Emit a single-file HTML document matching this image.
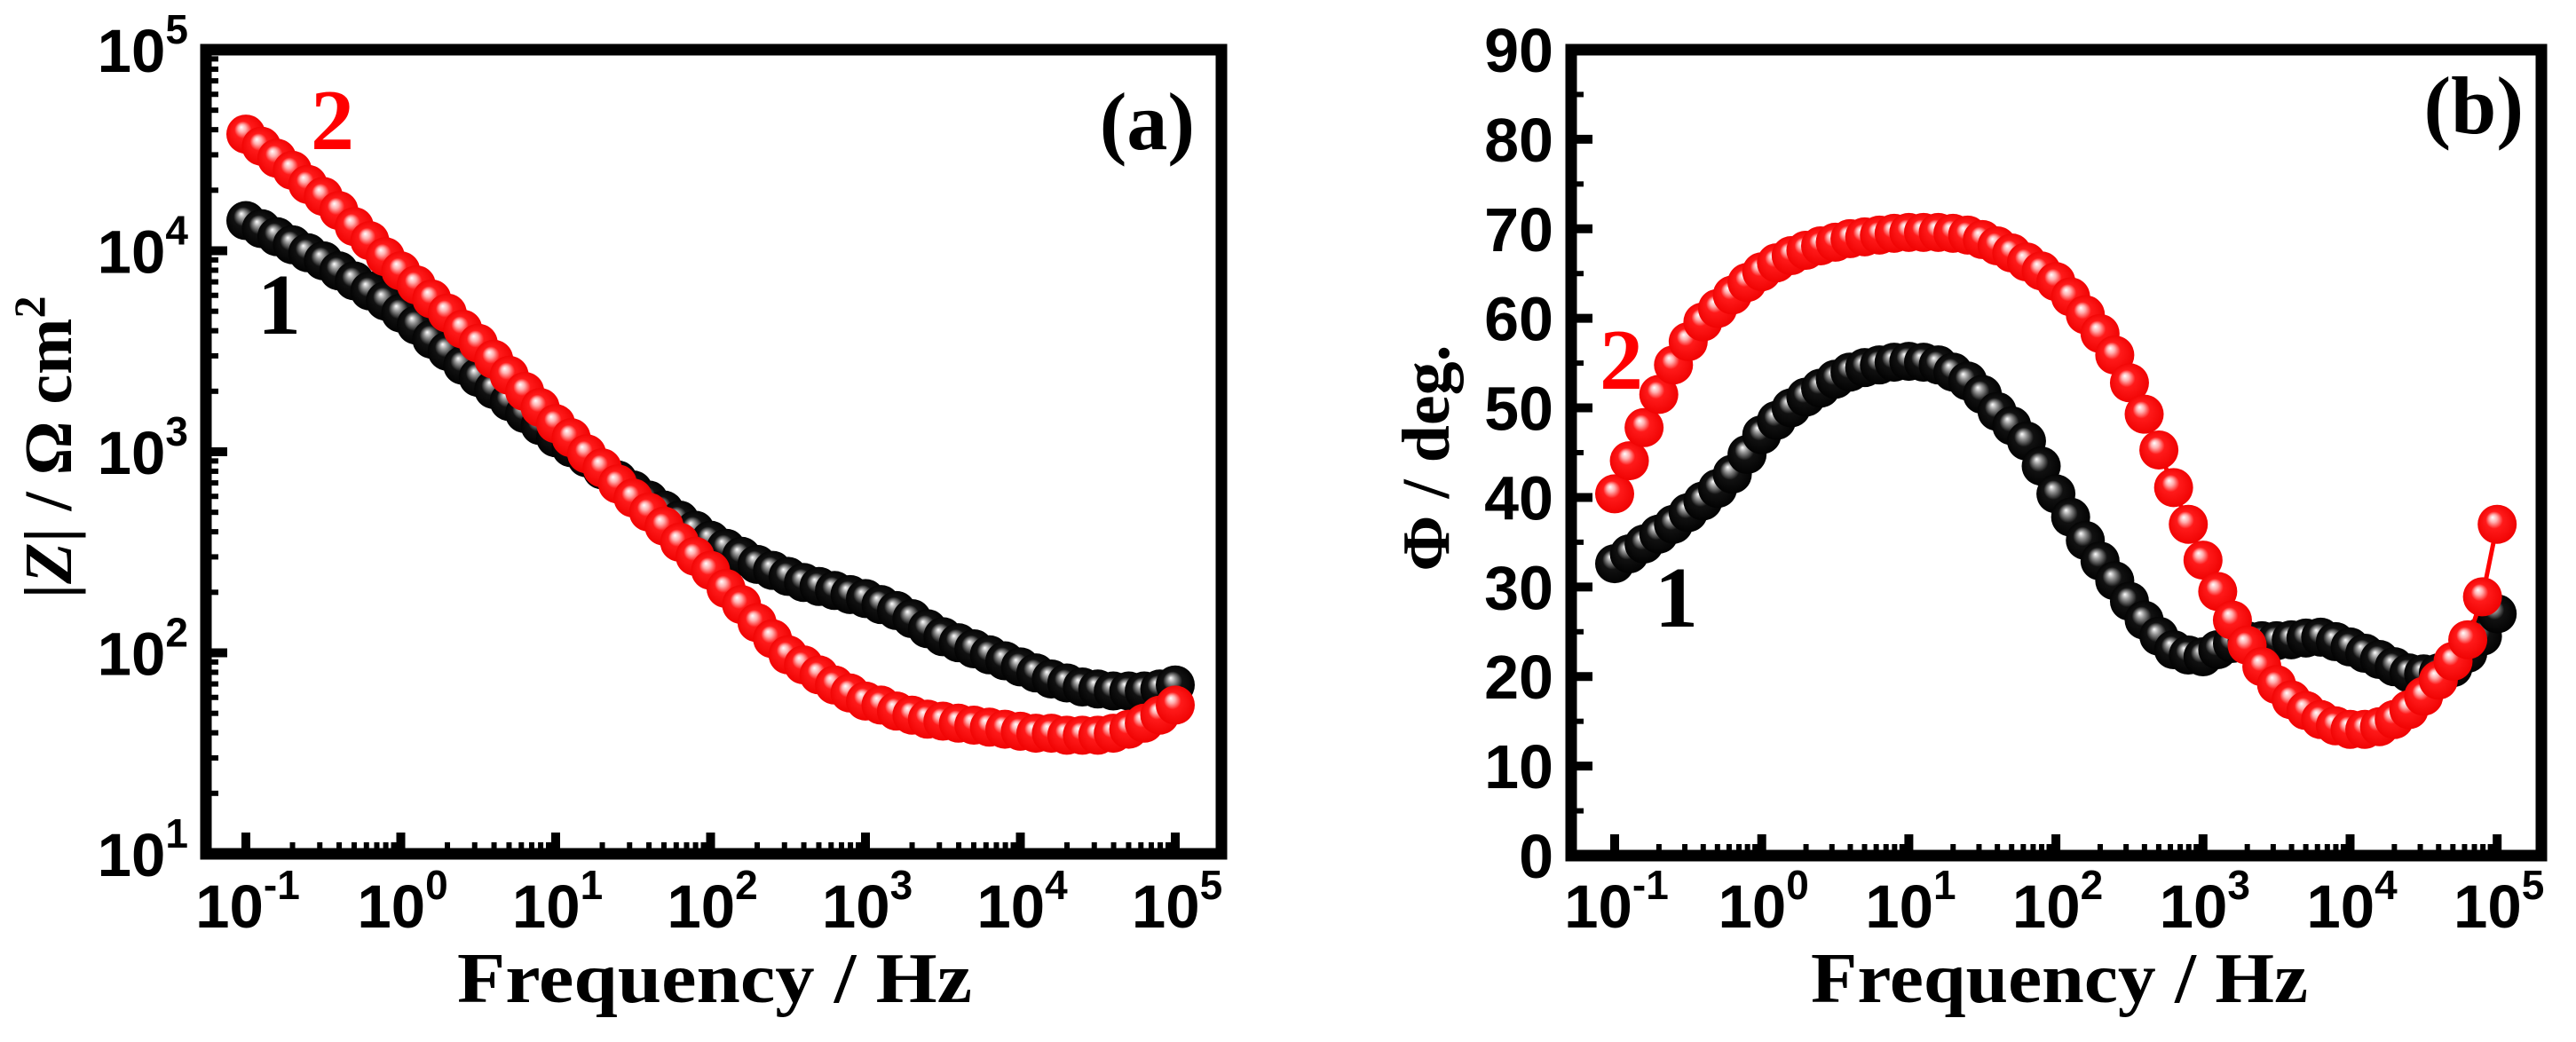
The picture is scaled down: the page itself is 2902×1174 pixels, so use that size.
<!DOCTYPE html>
<html><head><meta charset="utf-8"><style>
html,body{margin:0;padding:0;background:#fff;}
svg{display:block;}
</style></head><body>
<svg id="chart" width="2902" height="1174" viewBox="0 0 2902 1174" xmlns="http://www.w3.org/2000/svg">
<defs>
<radialGradient id="gRed" cx="0.5" cy="0.5" r="0.55" fx="0.38" fy="0.32">
<stop offset="0" stop-color="#ffffff"/><stop offset="0.18" stop-color="#ffb0b0"/><stop offset="0.4" stop-color="#ff1a1a"/><stop offset="1" stop-color="#ee0000"/>
</radialGradient>
<radialGradient id="gBlack" cx="0.5" cy="0.5" r="0.55" fx="0.38" fy="0.32">
<stop offset="0" stop-color="#ffffff"/><stop offset="0.18" stop-color="#999"/><stop offset="0.45" stop-color="#111"/><stop offset="1" stop-color="#000"/>
</radialGradient>
</defs>
<g id="panelA"></g>
<g id="panelB"></g>
</svg>
<script>
const logFreq = [];
for (let i = 0; i <= 60; i++) logFreq.push(-1 + i * 0.1);
const zSeries1 = [4.15,4.11,4.07,4.03,3.99,3.95,3.90,3.85,3.80,3.75,3.69,3.63,3.56,3.50,3.43,3.37,3.31,3.25,3.19,3.13,3.07,3.02,2.97,2.91,2.86,2.81,2.76,2.71,2.66,2.61,2.56,2.52,2.48,2.44,2.41,2.38,2.35,2.33,2.31,2.29,2.27,2.24,2.21,2.17,2.12,2.08,2.05,2.02,1.99,1.96,1.93,1.90,1.87,1.85,1.83,1.82,1.81,1.81,1.81,1.82,1.84];
const zSeries2 = [4.58,4.52,4.46,4.40,4.33,4.27,4.20,4.12,4.05,3.97,3.90,3.83,3.76,3.69,3.61,3.54,3.46,3.38,3.30,3.22,3.14,3.07,2.99,2.92,2.84,2.77,2.70,2.63,2.55,2.48,2.41,2.32,2.24,2.15,2.07,1.99,1.94,1.89,1.84,1.80,1.76,1.74,1.71,1.69,1.67,1.66,1.65,1.64,1.63,1.62,1.61,1.60,1.60,1.59,1.59,1.59,1.60,1.62,1.65,1.69,1.74];
const phaseSeries1 = [32.6,33.7,34.8,35.9,37.0,38.3,39.6,41.0,42.6,44.8,47.0,48.6,50.0,51.2,52.2,53.2,54.0,54.5,54.8,55.1,55.2,55.1,54.8,54.0,53.0,51.5,49.6,48.0,46.3,43.5,40.4,37.8,35.2,32.9,30.7,28.4,26.3,24.5,23.0,22.4,22.2,23.0,23.7,24.0,24.0,24.0,24.1,24.3,24.4,23.9,23.3,22.6,21.9,21.1,20.4,20.3,20.4,21.0,22.6,24.5,27.0];
const phaseSeries2 = [40.4,44.1,47.8,51.5,54.8,57.4,59.6,61.1,62.6,64.0,65.2,66.2,67.0,67.6,68.1,68.5,68.9,69.1,69.3,69.5,69.6,69.6,69.6,69.5,69.3,68.8,68.1,67.3,66.3,65.3,64.1,62.4,60.4,58.3,55.9,52.8,49.3,45.3,41.1,37.0,33.0,29.5,26.3,23.5,21.1,19.1,17.4,16.2,15.2,14.5,14.1,14.1,14.4,15.2,16.3,17.8,19.6,21.7,24.1,28.9,37.0];
const xTickExps = [-1,0,1,2,3,4,5];
const yTickExpsA = [1,2,3,4,5];
const yTicksB = [0,10,20,30,40,50,60,70,80,90];

const NS = 'http://www.w3.org/2000/svg';
function mk(parent, tag, attrs, text) {
  const e = document.createElementNS(NS, tag);
  for (const k in attrs) e.setAttribute(k, attrs[k]);
  if (text !== undefined) e.textContent = text;
  parent.appendChild(e);
  return e;
}
const SANS = '"Liberation Sans", Arial, sans-serif';

const xA = lf => 277 + (lf + 1) * 174.5;
const yA = lz => 56 + (5 - lz) * 226.5;
const xB = lf => 1819 + (lf + 1) * 165.7;
const yB = p => 964 - p * (908 / 90);

function drawFrame(g, L, T, R, B) {
  const f = mk(g, 'rect', {x: L, y: T, width: R - L, height: B - T, fill: 'none', stroke: '#000', 'stroke-width': 13});
  
  
}
function xTicks(g, xf, B) {
  xTickExps.forEach(e => {
    const x = xf(e);
    const t = mk(g, 'line', {x1: x, x2: x, y1: B, y2: B - 24, stroke: '#000', 'stroke-width': 10});
    
    
    const tx = mk(g, 'text', {x: x + 2, y: 1045, 'text-anchor': 'middle', 'font-family': SANS, 'font-weight': 'bold', 'font-size': 69});
    
    
    mk(tx, 'tspan', {}, '10');
    mk(tx, 'tspan', {dy: -32, 'font-size': 46}, String(e));
    if (e < 5) for (let m = 2; m <= 9; m++) {
      const xm = xf(e + Math.log10(m));
      const mt = mk(g, 'line', {x1: xm, x2: xm, y1: B, y2: B - 13, stroke: '#000', 'stroke-width': 6});
      
      
    }
  });
}
function series(g, xf, yf, xs, ys, grad, color, name, line) {
  const sg = mk(g, 'g', {});
  
  
  if (line) {
    const pts = xs.map((x, i) => xf(x).toFixed(1) + ',' + yf(ys[i]).toFixed(1)).join(' ');
    const pl = mk(sg, 'polyline', {points: pts, fill: 'none', stroke: color, 'stroke-width': 5});
    
    
  }
  xs.forEach((x, i) => {
    const c = mk(sg, 'circle', {cx: xf(x), cy: yf(ys[i]), r: 22, fill: 'url(#' + grad + ')'});
    
    
  });
}

const gA = document.getElementById('panelA');
series(gA, xA, yA, logFreq, zSeries1, 'gBlack', '#000', 'series-1-impedance', false);
series(gA, xA, yA, logFreq, zSeries2, 'gRed', '#f00', 'series-2-impedance', false);
drawFrame(gA, 232, 56, 1376, 962);
xTicks(gA, xA, 962);
yTickExpsA.forEach(e => {
  const y = yA(e);
  const t = mk(gA, 'line', {x1: 232, x2: 256, y1: y, y2: y, stroke: '#000', 'stroke-width': 10});
  
  
  const tx = mk(gA, 'text', {x: 212, y: y + 25, 'text-anchor': 'end', 'font-family': SANS, 'font-weight': 'bold', 'font-size': 69});
  
  
  mk(tx, 'tspan', {}, '10');
  mk(tx, 'tspan', {dy: -32, 'font-size': 46}, String(e));
  if (e < 5) for (let m = 2; m <= 9; m++) {
    const ym = yA(e + Math.log10(m));
    const mt = mk(gA, 'line', {x1: 232, x2: 246, y1: ym, y2: ym, stroke: '#000', 'stroke-width': 6});
    
    
  }
});
const gB = document.getElementById('panelB');
series(gB, xB, yB, logFreq, phaseSeries1, 'gBlack', '#000', 'series-1-phase', false);
series(gB, xB, yB, logFreq, phaseSeries2, 'gRed', '#f00', 'series-2-phase', true);
drawFrame(gB, 1770, 56, 2863, 964);
xTicks(gB, xB, 964);
yTicksB.forEach(v => {
  const y = yB(v);
  const t = mk(gB, 'line', {x1: 1770, x2: 1794, y1: y, y2: y, stroke: '#000', 'stroke-width': 10});
  
  
  const tx = mk(gB, 'text', {x: 1750, y: y + 25, 'text-anchor': 'end', 'font-family': SANS, 'font-weight': 'bold', 'font-size': 70}, String(v));
  
  
  if (v < 90) {
    const ym = yB(v + 5);
    const mt = mk(gB, 'line', {x1: 1770, x2: 1784, y1: ym, y2: ym, stroke: '#000', 'stroke-width': 6});
    
    
  }
});
</script>
<svg style="position:absolute;left:0;top:0" width="2902" height="1174" viewBox="0 0 2902 1174">
<g font-family="'Liberation Serif', 'Times New Roman', serif" font-weight="bold">
<text x="805" y="1129" font-size="80" text-anchor="middle" textLength="580" lengthAdjust="spacingAndGlyphs">Frequency / Hz</text>
<text x="2320" y="1129" font-size="80" text-anchor="middle" textLength="560" lengthAdjust="spacingAndGlyphs">Frequency / Hz</text>
<text transform="translate(80,504) rotate(-90)" font-size="76" text-anchor="middle">|<tspan font-style="italic">Z</tspan>| / Ω cm<tspan dy="-30" font-size="50">2</tspan></text>
<text transform="translate(1632,516) rotate(-90)" font-size="76" text-anchor="middle">Φ / deg.</text>
<text x="1346" y="168" font-size="92" text-anchor="end">(a)</text>
<text x="2843" y="150" font-size="92" text-anchor="end">(b)</text>
<text x="350" y="168" font-size="98" fill="#ff0000">2</text>
<text x="290" y="376" font-size="98" fill="#000">1</text>
<text x="1802" y="438" font-size="98" fill="#ff0000">2</text>
<text x="1864" y="706" font-size="98" fill="#000">1</text>
</g>
</svg>
</body></html>
